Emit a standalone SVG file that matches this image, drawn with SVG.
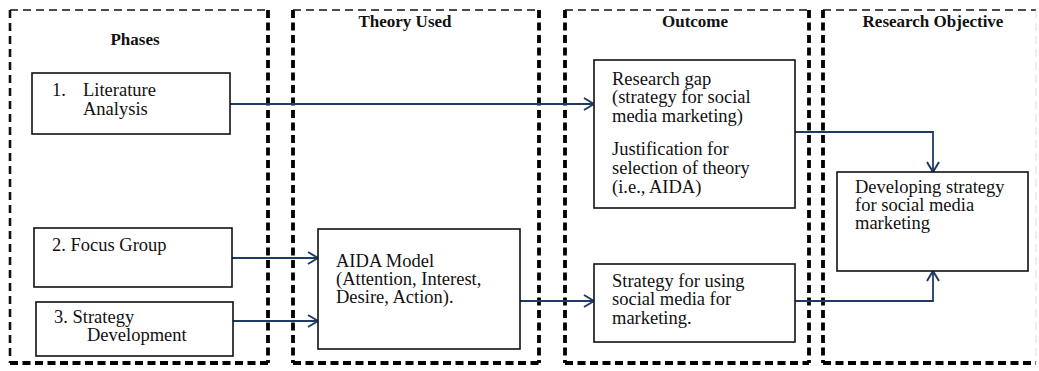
<svg xmlns="http://www.w3.org/2000/svg" width="1039" height="371" viewBox="0 0 1039 371">
<style>
.thin{stroke:#111;stroke-width:1.6;stroke-dasharray:8 5;fill:none}
.mid{stroke:#111;stroke-width:2.6;stroke-dasharray:8 5;fill:none}
.thick{stroke:#000;stroke-width:3.8;stroke-dasharray:8 4.5;fill:none}
.box{fill:#fff;stroke:#111;stroke-width:1.6}
.t{font-size:18.5px;fill:#111}
.h{font-size:17px;font-weight:bold;fill:#111}
.c{stroke:#1f3b63;stroke-width:1.8;fill:none}
</style>
<defs>
<marker id="arr" viewBox="0 0 12 14" refX="11" refY="7" markerWidth="12" markerHeight="14" markerUnits="userSpaceOnUse" orient="auto">
<path d="M1,1 L11,7 L1,13" fill="none" stroke="#1f3b63" stroke-width="2"/>
</marker>
</defs>
<rect width="1039" height="371" fill="#fff"/>
<g font-family="'Liberation Serif', 'DejaVu Serif', serif">
<g id="panel-phases">
<line class="thin" x1="10" y1="10" x2="268" y2="10"/>
<line class="mid" x1="10" y1="10" x2="10" y2="363"/>
<line class="thick" x1="268" y1="10" x2="268" y2="363"/>
<line class="thick" x1="10" y1="363" x2="268" y2="363"/>
<text class="h" x="135" y="45" text-anchor="middle">Phases</text>
</g>
<g id="panel-theory">
<line class="thin" x1="293" y1="10" x2="539" y2="10"/>
<line class="thick" x1="293" y1="10" x2="293" y2="363"/>
<line class="thick" x1="539" y1="10" x2="539" y2="363"/>
<line class="thick" x1="293" y1="363" x2="539" y2="363"/>
<text class="h" x="405" y="27" text-anchor="middle">Theory Used</text>
</g>
<g id="panel-outcome">
<line class="thin" x1="565" y1="10" x2="809" y2="10"/>
<line class="thick" x1="565" y1="10" x2="565" y2="363"/>
<line class="thick" x1="809" y1="10" x2="809" y2="363"/>
<line class="thick" x1="565" y1="363" x2="809" y2="363"/>
<text class="h" x="695" y="27" text-anchor="middle">Outcome</text>
</g>
<g id="panel-objective">
<line class="thin" x1="823" y1="10" x2="1036" y2="10"/>
<line class="thick" x1="823" y1="10" x2="823" y2="363"/>
<line x1="1036" y1="10" x2="1036" y2="363" stroke="#ddd" stroke-width="1" stroke-dasharray="8 5"/>
<line class="thick" x1="823" y1="363" x2="1036" y2="363"/>
<text class="h" x="933" y="27" text-anchor="middle">Research Objective</text>
</g>
<g id="connectors">
<path class="c" d="M230,104 H594" marker-end="url(#arr)"/>
<path class="c" d="M232,258 H318" marker-end="url(#arr)"/>
<path class="c" d="M233,321 H318" marker-end="url(#arr)"/>
<path class="c" d="M520,301 H594" marker-end="url(#arr)"/>
<path class="c" d="M795,132 H933 V172" marker-end="url(#arr)"/>
<path class="c" d="M795,301 H933 V271" marker-end="url(#arr)"/>
</g>
<g id="node-literature">
<rect class="box" x="32" y="73" width="198" height="61"/>
<text class="t" x="52" y="96">1.</text>
<text class="t" x="83" y="96">Literature</text>
<text class="t" x="83" y="115">Analysis</text>
</g>
<g id="node-focus">
<rect class="box" x="34" y="228" width="198" height="59"/>
<text class="t" x="52" y="251">2. Focus Group</text>
</g>
<g id="node-strategy-dev">
<rect class="box" x="36" y="302" width="197" height="54"/>
<text class="t" x="54" y="323">3. Strategy</text>
<text class="t" x="87" y="341">Development</text>
</g>
<g id="node-aida">
<rect class="box" x="318" y="229" width="202" height="120"/>
<text class="t" x="336" y="267">AIDA Model</text>
<text class="t" x="336" y="285">(Attention, Interest,</text>
<text class="t" x="336" y="303">Desire, Action).</text>
</g>
<g id="node-research-gap">
<rect class="box" x="594" y="60" width="201" height="148"/>
<text class="t" x="612" y="85">Research gap</text>
<text class="t" x="612" y="103">(strategy for social</text>
<text class="t" x="612" y="122">media marketing)</text>
<text class="t" x="612" y="155">Justification for</text>
<text class="t" x="612" y="174">selection of theory</text>
<text class="t" x="612" y="193">(i.e., AIDA)</text>
</g>
<g id="node-strategy-using">
<rect class="box" x="594" y="264" width="201" height="78"/>
<text class="t" x="612" y="287">Strategy for using</text>
<text class="t" x="612" y="305">social media for</text>
<text class="t" x="612" y="324">marketing.</text>
</g>
<g id="node-developing">
<rect class="box" x="837" y="172" width="191" height="99"/>
<text class="t" x="855" y="193">Developing strategy</text>
<text class="t" x="855" y="211">for social media</text>
<text class="t" x="855" y="229">marketing</text>
</g>
</g>
</svg>
